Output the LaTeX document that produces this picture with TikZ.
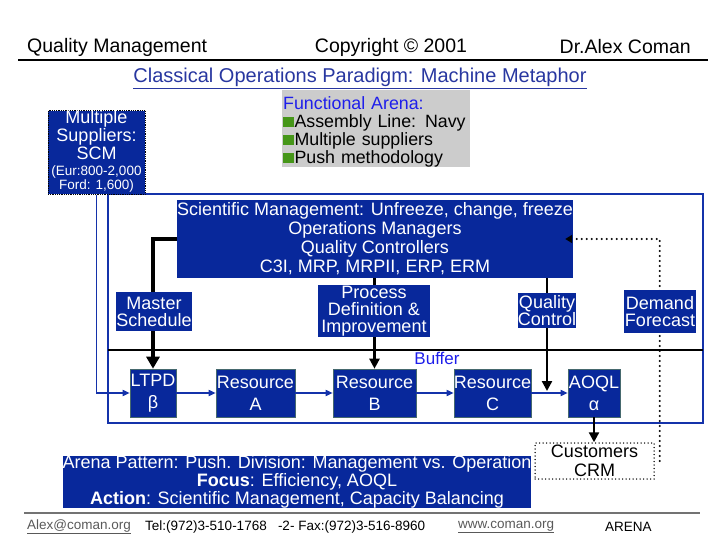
\documentclass[tikz,border=0pt]{standalone}
\usepackage{fontspec}
\setmainfont{Liberation Sans}
\usetikzlibrary{arrows.meta,calc}
\definecolor{navy}{RGB}{8,40,155}
\definecolor{linkblue}{RGB}{30,30,235}
\definecolor{titleblue}{RGB}{40,55,160}
\definecolor{frameblue}{RGB}{20,50,170}
\definecolor{bulgreen}{RGB}{70,150,25}
\newcommand{\fsz}[2]{\fontsize{#1bp}{#2bp}\selectfont}
\newcommand{\bul}{\textcolor{bulgreen}{\rule{0.58em}{0.58em}}\kern1bp}
\begin{document}
\begin{tikzpicture}[x=1bp,y=-1bp,every node/.style={inner sep=0pt,font=\fsz{18}{17}},
  navybox/.style={fill=navy,text=white,align=center},
  rowbox/.style={navybox,draw={rgb,255:red,70;green,105;blue,110},line width=0.6bp,minimum height=48bp,font=\fsz{18}{22}},
  flow/.style={-{Triangle[length=7bp,width=6bp]},line width=1.6bp,frameblue},
  ctrl/.style={-{Triangle[length=10bp,width=10bp]},line width=2.4bp},
  dots/.style={line width=2.4bp,dash pattern=on 0pt off 5bp,line cap=round}]
\useasboundingbox (0,0) rectangle (720,540);
% header
\node[anchor=west,font=\fsz{19.5}{20}] (qm) at (27,47) {Quality Management};
\node[font=\fsz{19.5}{20}] (copy) at (391,47) {Copyright © 2001};
\node[anchor=east,font=\fsz{19.5}{20}] (dr) at (691,47) {Dr.Alex Coman};
\draw[line width=2.2bp] (18,60) -- (708,60);
\node[font=\fsz{20}{20},text=titleblue] (title) at (360,78) {\underline{Classical Operations Paradigm: Machine Metaphor}};
\node[fill=black!20,anchor=north west,align=left,text width=186bp,inner xsep=1bp,inner ysep=0pt,minimum height=77bp,font=\fsz{17.8}{18}] (arena) at (282,90)
  {\rule{0pt}{19bp}\textcolor{linkblue}{Functional Arena:}\\\bul Assembly Line: Navy\\\bul Multiple suppliers\\\bul Push methodology};
% frame and buffer
\draw[frameblue,line width=2bp] (108,194) rectangle (703,423);
\draw[line width=2bp] (108,350) -- (703,350);
\node[text=linkblue,font=\fsz{17}{17}] (buf) at (437,358) {Buffer};
\node[navybox,draw=black,densely dotted,line width=0.8bp,minimum width=97bp,minimum height=81bp] (sup) at (96.5,152.5)
  {\begin{tabular}{@{}c@{}}Multiple\\Suppliers:\\SCM\\[-1bp]\fsz{13.5}{14}(Eur:800-2,000\\[-3bp]\fsz{13.5}{14}Ford: 1,600)\end{tabular}};
\node[navybox,minimum width=396bp,minimum height=78bp,font=\fsz{18}{19}] (sci) at (375,239)
  {Scientific Management: Unfreeze, change, freeze\\Operations Managers\\Quality Controllers\\C3I, MRP, MRPII, ERP, ERM};
% resources
\node[rowbox,minimum width=46bp] (ltpd) at (153,393) {LTPD\\β};
\node[rowbox,minimum width=79bp] (resa) at (255.5,393) {Resource\\A};
\node[rowbox,minimum width=83bp] (resb) at (374.5,393) {Resource\\B};
\node[rowbox,minimum width=77bp] (resc) at (492.5,393) {Resource\\C};
\node[rowbox,minimum width=52bp] (aoql) at (594,393) {AOQL\\α};
\node[draw,line width=1.5bp,dash pattern=on 0pt off 3.5bp,line cap=round,align=center,minimum width=119bp,minimum height=36bp,font=\fsz{18}{19}] (cust) at (594.5,461) {Customers\\CRM};
\node[navybox,minimum width=466bp,minimum height=50bp,font=\fsz{18}{16.5}] (pat) at (297,482)
  {Arena Pattern: Push. Division: Management vs. Operation\\\textbf{Focus}: Efficiency, AOQL\\\textbf{Action}: Scientific Management, Capacity Balancing};
% connectors
\draw[flow] (sup.south) |- (ltpd.west);
\draw[flow] (ltpd) -- (resa);
\draw[flow] (resa) -- (resb);
\draw[flow] (resb) -- (resc);
\draw[flow] (resc) -- (aoql);
\draw[ctrl,line width=3.5bp,-{Triangle[length=12bp,width=13bp]}] (sci.west) -| (ltpd.north);
\draw[ctrl] (resb.north |- sci.south) -- (resb.north);
\coordinate (qcend) at ($(547,0 |- aoql.west)+(0,-2)$);
\draw[ctrl] (qcend |- sci.south) -- (qcend);
\draw[ctrl] (aoql.south) -- (aoql.south |- cust.north);
\draw[dots,-{Triangle[length=7bp,width=8bp]}] ([xshift=5bp]cust.east) |- ([xshift=-8bp]sci.east);
% control boxes
\node[navybox,minimum width=76bp,minimum height=39bp] (mst) at (154,311.5) {Master\\Schedule};
\node[navybox,minimum width=112bp,minimum height=52bp] (proc) at (374,311) {Process\\Definition \&\\Improvement};
\node[navybox,minimum width=58bp,minimum height=35bp] (qc) at (547,310.5) {Quality\\Control};
\node[navybox,minimum width=72bp,minimum height=43bp] (dem) at (660,311.5) {Demand\\Forecast};
% footer
\draw[black!55,line width=2bp] (24,513) -- (700,513);
\node[anchor=west,font=\fsz{13.5}{14},text=black!65] (mail) at (27,527) {\underline{Alex@coman.org}};
\node[anchor=west,font=\fsz{13.5}{14}] (tel) at (145,527) {Tel:(972)3-510-1768\ \ \ -2- Fax:(972)3-516-8960};
\node[anchor=west,font=\fsz{13.5}{14},text=black!65] (web) at (458,527) {\underline{www.coman.org}};
\node[anchor=west,font=\fsz{13.5}{14}] (arn) at (605,527) {ARENA};
\end{tikzpicture}
\end{document}
